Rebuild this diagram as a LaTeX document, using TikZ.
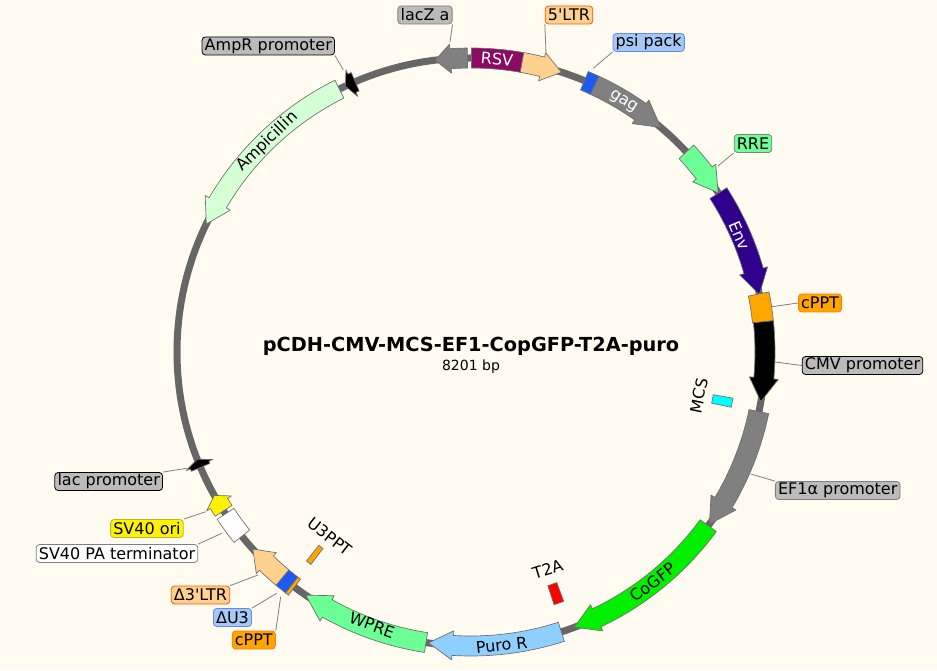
\documentclass[tikz,border=0pt]{standalone}
\usepackage{fontspec}
\setmainfont{DejaVu Sans}[Ligatures=TeXOff]
\definecolor{papier}{RGB}{255,251,240}
\definecolor{ringgrau}{RGB}{102,102,102}
\definecolor{rand}{RGB}{110,110,110}
\definecolor{grauton}{RGB}{128,128,128}
\definecolor{grauetikett}{RGB}{187,187,187}
\definecolor{rsvlila}{RGB}{139,10,99}
\definecolor{ltrsand}{RGB}{255,209,143}
\definecolor{psiblau}{RGB}{166,200,245}
\definecolor{boxblau}{RGB}{30,90,240}
\definecolor{rregruen}{RGB}{107,255,150}
\definecolor{envviolett}{RGB}{46,0,139}
\definecolor{pptorange}{RGB}{255,165,0}
\definecolor{gfpgruen}{RGB}{0,240,0}
\definecolor{puroblau}{RGB}{143,207,255}
\definecolor{ampgruen}{RGB}{213,255,213}
\definecolor{mcscyan}{RGB}{0,255,255}
\usetikzlibrary{calc}
\tikzset{
	etikett/.style 2 args={fill=#1,draw=#2,rounded corners=2.5pt,line width=.6pt,inner sep=0pt,
		minimum height=13.5pt,font=\fontsize{12}{14}\selectfont},
	leitlinie/.style={draw=grauton,line width=.6pt},
	merkmal/.style={font=\fontsize{12}{14}\selectfont},
	hellmerkmal/.style={text=white,font=\fontsize{12}{14}\selectfont},
}
% arrow on the ring: colour, tail angle, head base angle, tip angle
\newcommand{\ringpfeil}[4]{\filldraw[fill=#1,draw=rand,line width=.5pt,line join=round] (#2:304) arc[start angle=#2,end angle=#3,radius=304] -- (#3:308.5) -- (#4:294) -- (#3:279.5) -- (#3:284) arc[start angle=#3,end angle=#2,radius=284] -- cycle;}
% box between two angles: colour, angles, inner and outer radius
\newcommand{\ringbox}[5]{\filldraw[fill=#1,draw=rand,line width=.5pt] (#2:#5) arc[start angle=#2,end angle=#3,radius=#5] -- (#3:#4) arc[start angle=#3,end angle=#2,radius=#4] -- cycle;}
\begin{document}
\begin{tikzpicture}[x=.75pt,y=.75pt]
	\fill[papier] (-471,-318) rectangle (466,352);
	\useasboundingbox (-471,-318) rectangle (466,352);
	\draw[ringgrau,line width=5.25pt] (0,0) circle (294);
	
	\ringpfeil{grauton}{90.7}{94}{97}
	\ringbox{rsvlila}{89.9}{80}{284}{304}
	\ringpfeil{ltrsand}{80}{76}{72.1}
	\ringbox{boxblau}{67.3}{65.1}{284}{304}
	\ringpfeil{grauton}{65.1}{54.8}{49.8}
	\ringpfeil{rregruen}{42.9}{37.5}{32.8}
	\ringpfeil{envviolett}{32.7}{16}{11.3}
	\ringbox{pptorange}{11.4}{5.9}{283}{304}
	\ringpfeil{black}{5.9}{-5.1}{-9.7}
	\ringpfeil{grauton}{-11.7}{-30.8}{-35.8}
	\ringpfeil{gfpgruen}{-36.2}{-64.7}{-69.4}
	\ringpfeil{puroblau}{-72.1}{-93.6}{-98.3}
	\ringpfeil{rregruen}{-98.8}{-119.3}{-124.2}
	\ringbox{pptorange}{-126.9}{-127.6}{284}{304}
	\ringbox{boxblau}{-127.6}{-129.9}{284}{304}
	\ringpfeil{ltrsand}{-129.9}{-134.1}{-137.9}
	\ringbox{white}{-141.2}{-146.6}{284}{304}
	\ringpfeil{yellow}{-147.3}{-149}{-150.8}
	\ringpfeil{black}{-156.9}{-157.4}{-158.6}
	\ringpfeil{ampgruen}{116.6}{149.5}{154.2}
	\ringpfeil{black}{113.2}{113.9}{115.3}
	\ringbox{mcscyan}{-10}{-12}{246}{266}
	\ringbox{red}{-69.6}{-71.8}{246}{266}
	\ringbox{pptorange}{-127}{-128.2}{246}{266}
	
	\node[hellmerkmal,rotate=-5] (rsv) at (26,293) {RSV};
	\node[hellmerkmal,rotate=-32] (gag) at (152.3,250.3) {gag};
	\node[hellmerkmal,rotate=-67] (env) at (269,116.3) {Env};
	\node[merkmal,rotate=38] (cogfp) at (181.7,-230.3) {CoGFP};
	\node[merkmal,rotate=6] (puro) at (30.7,-293) {Puro R};
	\node[merkmal,rotate=-20] (wpre) at (-99,-273) {WPRE};
	\node[merkmal,rotate=44] (amp) at (-203.7,210.3) {Ampicillin};
	\node[merkmal,rotate=78] (mcs) at (228,-44) {MCS};
	\node[merkmal,rotate=17] (t2a) at (76.7,-217.3) {T2A};
	\node[merkmal,rotate=-38] (u3ppt) at (-141,-184.7) {U3PPT};
	
	\node[font=\fontsize{14.5}{18}\selectfont\bfseries] (titel) at (0,5.5) {pCDH-CMV-MCS-EF1-CopGFP-T2A-puro};
	\node[font=\fontsize{10.5}{13}\selectfont] (laenge) at (0,-14.5) {8201 bp};
	
	\node[etikett={grauetikett}{grauton}] (lacz) at (-46,337) {\,lacZ a\,};
	\node[etikett={ltrsand}{orange!70!red}] (ltrfuenf) at (98,337) {\,5'LTR\,};
	\node[etikett={psiblau}{boxblau!70}] (psi) at (177.7,309.5) {\,psi pack\,};
	\node[etikett={rregruen}{grauton}] (rre) at (282,208.5) {\,RRE\,};
	\node[etikett={pptorange}{orange}] (cpptoben) at (349,49) {\,cPPT\,};
	\node[etikett={grauetikett}{black}] (cmv) at (391.5,-13.5) {\,CMV promoter\,};
	\node[etikett={grauetikett}{grauton}] (efa) at (366.7,-138.5) {\,EF1α promoter\,};
	\node[etikett={grauetikett}{black}] (amppro) at (-202.7,306) {\,AmpR promoter\,};
	\node[etikett={grauetikett}{black}] (lac) at (-362.3,-129.5) {\,lac promoter\,};
	\node[etikett={yellow}{yellow!70!black}] (ori) at (-324,-176.5) {\,SV40 ori\,};
	\node[etikett={white}{grauton}] (pater) at (-354,-201.5) {\,SV40 PA terminator\,};
	\node[etikett={ltrsand}{orange!70!red}] (ltrdrei) at (-270.5,-243) {\,Δ3'LTR\,};
	\node[etikett={psiblau}{boxblau!70}] (duddrei) at (-238.5,-265.5) {\,ΔU3\,};
	\node[etikett={pptorange}{orange}] (cpptunten) at (-217.2,-288) {\,cPPT\,};
	
	\coordinate (zlacz) at (-21,310);
	\coordinate (zltrfuenf) at (75,299);
	\coordinate (zpsi) at (122.3,283.7);
	\coordinate (zrre) at (247,186);
	\coordinate (zcpptoben) at (300.7,45.3);
	\coordinate (zcmv) at (304,-10);
	\coordinate (zefa) at (279.7,-122);
	\coordinate (zamppro) at (-127.7,282);
	\coordinate (zlac) at (-284.3,-116.3);
	\coordinate (zori) at (-265.3,-159.7);
	\coordinate (zpater) at (-249.3,-181.3);
	\coordinate (zltrdrei) at (-213,-223);
	\coordinate (zduddrei) at (-194.3,-241.3);
	\coordinate (zcpptunten) at (-190.3,-244.7);
	
	\draw[leitlinie] (lacz.south east) -- (zlacz);
	\draw[leitlinie] (ltrfuenf.south west) -- (zltrfuenf);
	\draw[leitlinie] (psi.south west) -- (zpsi);
	\draw[leitlinie] (rre.south west) -- (zrre);
	\draw[leitlinie] (cpptoben.west) -- (zcpptoben);
	\draw[leitlinie] (cmv.west) -- (zcmv);
	\draw[leitlinie] (efa.north west) -- (zefa);
	\draw[leitlinie] (amppro.south east) -- (zamppro);
	\draw[leitlinie] (lac.north east) -- (zlac);
	\draw[leitlinie] (ori.north east) -- (zori);
	\draw[leitlinie] (pater.north east) -- (zpater);
	\draw[leitlinie] (ltrdrei.north east) -- (zltrdrei);
	\draw[leitlinie] (duddrei.north east) -- (zduddrei);
	\draw[leitlinie] (cpptunten.north east) -- (zcpptunten);
\end{tikzpicture}
\end{document}
